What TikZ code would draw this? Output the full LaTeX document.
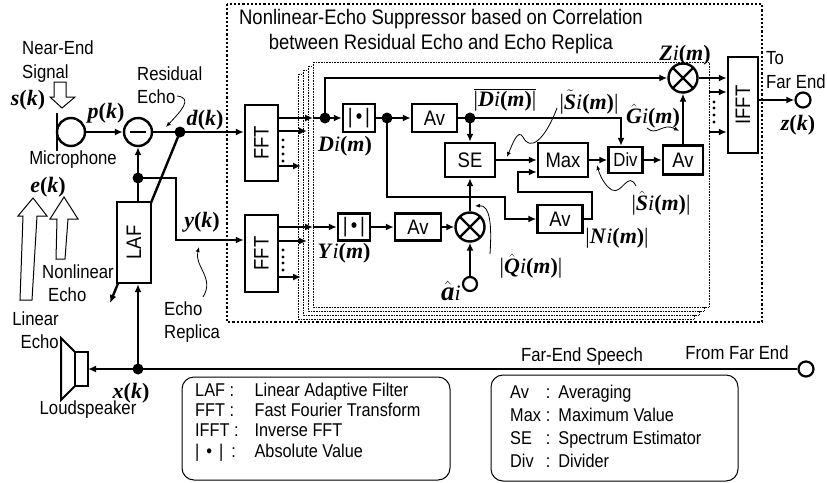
\documentclass[tikz,border=0pt]{standalone}
\usepackage{fontspec}
\usepackage{graphicx}
\setmainfont{Liberation Sans}[FakeStretch=0.88]
\newfontfamily\lblfamily{Liberation Serif}
\usetikzlibrary{arrows.meta}

\newcommand{\bi}[1]{\textbf{\textit{#1}}}
\newcommand{\fk}[2]{\bi{#1}\textbf{(}\bi{#2}\textbf{)}}
\newcommand{\fim}[1]{\bi{#1}\textit{i}\textbf{(}\bi{m}\textbf{)}}
\newcommand{\hacc}[1]{\ensuremath{\hat{\hbox{#1}}}}
\newcommand{\tacc}[1]{\ensuremath{\tilde{\hbox{#1}}}}
\newcommand{\absv}{|\hspace{3pt}\textbullet\hspace{3pt}|}

\begin{document}
\begin{tikzpicture}[x=1pt, y=-1pt,
        >={Latex[length=8pt,width=7pt]},
        sig/.style={line width=2.4pt},
        lead/.style={line width=0.8pt, -{Latex[length=5pt,width=4pt]}},
        blk/.style={draw, line width=2.4pt, fill=white, inner sep=0pt, font=\fontsize{21}{23}\selectfont},
        junc/.style={circle, fill, inner sep=0pt, minimum size=11pt},
        port/.style={circle, draw, line width=2.2pt, fill=white, inner sep=0pt, minimum size=15pt},
        mult/.style={circle, draw, line width=2.4pt, fill=white, inner sep=0pt, minimum size=29pt,
            path picture={\draw[line width=2.2pt] (path picture bounding box.south west) -- (path picture bounding box.north east)
                (path picture bounding box.north west) -- (path picture bounding box.south east);}},
        subtr/.style={circle, draw, line width=2.4pt, fill=white, inner sep=0pt, minimum size=28pt,
            path picture={\draw[line width=2.4pt] ([xshift=-8pt]path picture bounding box.center) -- ([xshift=8pt]path picture bounding box.center);}},
        hollow/.style={draw, line width=1pt, fill=white},
        pg/.style={draw, line width=0.6pt, dash pattern=on 0.7pt off 0.9pt, fill=white},
        txt/.style={font=\fontsize{19}{23.5}\selectfont, inner sep=0pt},
        lbl/.style={font=\lblfamily\fontsize{22}{24}\selectfont, inner sep=0pt}
    ]
        \useasboundingbox (0,0) rectangle (827,482);

        % Suppressor frame and its stacked frequency bins
        \draw[line width=2.2pt, dash pattern=on 2.2pt off 2pt] (227,4) rectangle (762,322);
        \node[font=\fontsize{21}{25}\selectfont, align=center] (title) at (441,32)
            {Nonlinear-Echo Suppressor based on Correlation\\between Residual Echo and Echo Replica};
        \foreach \k in {3,2,1}
            \draw[pg] (313-5*\k,62+4*\k) rectangle ++(396,245);
        \draw[pg] (313,62) rectangle (709,307);

        % Near end: microphone, subtraction, LAF
        \draw[sig] (57,113) -- (57,151);
        \node[port, line width=2.4pt, minimum size=28pt] (mic) at (71,132) {};
        \node[subtr] (sub) at (138,132) {};
        \node[junc] (dd) at (180,132) {};
        \coordinate (adapt) at (110,303);
        \draw[sig,->] (dd.center) -- (adapt);
        \node[blk, minimum width=34pt, minimum height=81pt] (laf) at (134,242.5) {\rotatebox{90}{LAF}};
        \node[junc] (yd) at (138,178) {};
        \node[junc] (xd) at (138,369) {};
        \node[blk, minimum width=33pt, minimum height=76pt] (fftA) at (261.5,143) {\rotatebox{90}{FFT}};
        \node[blk, minimum width=33pt, minimum height=77pt] (fftB) at (261.5,253.5) {\rotatebox{90}{FFT}};
        \node[port] (fe) at (806,369) {};
        \coordinate (spk) at (88,369);
        \coordinate (ycorner) at (176,240);

        \draw[sig,->] (mic) -- (sub);
        \draw[sig,->] (sub) -- (dd.center) -- (dd -| fftA.west);
        \draw[sig,->] (xd.center) -- (laf.south -| xd);
        \draw[sig] (laf.north -| yd) -- (yd.center);
        \draw[sig,->] (yd.center) -- (sub);
        \draw[sig,->] (yd.center) -- (yd -| ycorner) -- (ycorner) -- (ycorner -| fftB.west);
        \draw[sig,->] (fe) -- (xd.center) -- (spk);

        % Loudspeaker
        \draw[line width=2pt] (75,352) rectangle (88,386);
        \draw[line width=2pt] (75,352) -- (61,338) -- (61,400) -- (75,386);

        % Hollow arrows
        \draw[hollow] (54,82) -- (66,82) -- (66,97) -- (75,97) -- (62,108) -- (50,97) -- (54,97) -- cycle;
        \draw[hollow] (20,300) -- (23,216) -- (18,216) -- (33,198) -- (47,216) -- (37,216) -- (32,300) -- cycle;
        \draw[hollow] (56,259) -- (57,219) -- (50,219) -- (64,197) -- (78,219) -- (68,219) -- (65,259) -- cycle;

        % Bin i: upper branch
        \node[junc] (di) at (325,118) {};
        \node[blk, minimum width=32pt, minimum height=28pt] (absA) at (359,118) {\absv};
        \node[junc] (da) at (387,118) {};
        \node[blk, minimum width=45pt, minimum height=28pt] (avA) at (434.5,118) {Av};
        \node[junc] (dbar) at (470,118) {};
        \node[blk, minimum width=50pt, minimum height=34pt] (se) at (470,160) {SE};
        \node[blk, minimum width=50pt, minimum height=34pt] (max) at (563,160) {Max};
        \node[blk, minimum width=34pt, minimum height=26pt, font=\fontsize{19}{21}\selectfont] (div) at (625.5,160) {Div};
        \node[blk, minimum width=40pt, minimum height=29pt] (avB) at (683,160) {Av};
        \node[mult] (zm) at (683,78) {};
        \node[blk, minimum width=30pt, minimum height=96pt] (ifft) at (743,105) {\rotatebox{90}{IFFT}};
        \node[port] (zout) at (803,100) {};
        \coordinate (divin) at (621,118);

        % Bin i: lower branch
        \node[blk, minimum width=32pt, minimum height=27pt] (absB) at (354,227) {\absv};
        \node[blk, minimum width=46pt, minimum height=27pt] (avC) at (418,227) {Av};
        \node[mult] (qm) at (470,227) {};
        \node[port, minimum size=14pt] (ain) at (470,284) {};
        \node[blk, minimum width=45pt, minimum height=28pt] (avD) at (560,219) {Av};

        % FFT outputs into the bins
        \coordinate (pgA) at (313,118);
        \coordinate (pgB) at (313,227);
        \draw[sig,->] (fftA.east |- pgA) -- (pgA);
        \draw[sig] (pgA) -- (di.center);
        \draw[sig,->] (fftB.east |- pgB) -- (pgB);
        \draw[sig,->] (pgB) -- (absB);
        \foreach \y/\x in {131/307,166/301,241/307,277/301}
            \draw[sig,->] (fftA.east |- 0,\y) -- (\x,\y);
        \foreach \y in {140,147,154,161,250,257,263,270}
            \fill (283,\y) circle (1.7pt);
        \foreach \y in {102,108,115,122}
            \fill (714,\y) circle (1.7pt);

        \draw[sig,->] (di.center) -- (absA);
        \draw[sig] (absA) -- (da.center);
        \draw[sig,->] (da.center) -- (avA);
        \draw[sig] (avA) -- (dbar.center);
        \draw[sig,->] (dbar.center) -- (se);
        \draw[sig,->] (dbar.center) -- (divin) -- (divin |- div.north);
        \draw[sig,->] (di.center) -- (di |- zm) -- (zm);
        \draw[sig,->] (se) -- (max);
        \draw[sig,->] (max) -- (div);
        \draw[sig,->] (div) -- (avB);
        \draw[sig,->] (avB) -- (zm);
        \draw[sig,->] (zm) -- (zm -| ifft.west);
        \foreach \y in {92,132}
            \draw[sig,->] (709,\y) -- (ifft.west |- 0,\y);
        \draw[sig,->] (ifft.east |- zout) -- (zout);
        \draw[sig,->] (da.center) -- (da |- 0,197) -- (505,197) -- (505,219) -- (avD);
        \draw[sig,->] (avD) -- (592,219) -- (592,192) -- (518,192) -- (518,172) -- (max.west |- 0,172);
        \draw[sig,->] (absB) -- (avC);
        \draw[sig,->] (avC) -- (qm);
        \draw[sig,->] (ain) -- (qm);
        \draw[sig,->] (qm) -- (se);

        % Labels
        \node[txt, align=left, anchor=west] (near) at (22,61.5) {Near-End\\Signal};
        \node[lbl] (sk) at (28,100) {\fk{s}{k}};
        \node[lbl] (pk) at (106,113) {\fk{p}{k}};
        \node[txt, align=left, anchor=west] (resid) at (137,85) {Residual\\Echo};
        \node[lbl] (dk) at (205,120) {\fk{d}{k}};
        \node[txt] (micl) at (73,160) {Microphone};
        \node[lbl] (ek) at (48,187) {\fk{e}{k}};
        \node[lbl] (yk) at (202,222) {\fk{y}{k}};
        \node[txt, anchor=west] (nonl) at (42,272) {Nonlinear};
        \node[txt, anchor=west] (nonle) at (48,295) {Echo};
        \node[txt, align=right, anchor=east] (lin) at (59,330) {Linear\\Echo};
        \node[txt, align=left, anchor=west] (repl) at (164,322) {Echo\\Replica};
        \node[txt] (spkl) at (88,410) {Loudspeaker};
        \node[lbl] (xk) at (131,393) {\fk{x}{k}};
        \node[lbl] (dil) at (345,146) {\fim{D}};
        \node[lbl] (yil) at (344,253) {\fim{Y}};
        \node[lbl] (dbl) at (505,100) {\ensuremath{\overline{\hbox{|\fim{D}|}}}};
        \node[lbl] (stl) at (589,102) {|\fim{\tacc{S}}|};
        \node[lbl] (zil) at (685,55) {\fim{Z}};
        \node[lbl] (gl) at (653,116) {\fim{\hacc{G}}};
        \node[lbl] (shl) at (661,203) {|\fim{\hacc{S}}|};
        \node[lbl] (nil) at (617,238) {|\fim{N}|};
        \node[lbl] (ql) at (531,266) {|\fim{\hacc{Q}}|};
        \node[lbl, anchor=east] (al) at (461,291) {{\fontsize{27}{27}\selectfont\bi{\hacc{a}}}\textit{i}};
        \node[txt, align=left, anchor=west] (tofe) at (766,70) {To\\Far End};
        \node[lbl] (zk) at (798,125) {\fk{z}{k}};
        \node[txt] (fes) at (582,357) {Far-End Speech};
        \node[txt] (ffe) at (737,353) {From Far End};

        % Leaders
        \coordinate (reTip) at (166,127);
        \coordinate (rpTip) at (199,247);
        \coordinate (stTip) at (507,157);
        \coordinate (gTip) at (679,131);
        \coordinate (shTip) at (597,165);
        \coordinate (qTip) at (475,206);
        \draw[lead] (177,96) .. controls (194,98) and (180,112) .. (reTip);
        \draw[lead] (203,297) .. controls (215,278) and (194,266) .. (rpTip);
        \draw[lead] (557,108) .. controls (545,140) and (530,152) .. (523,137) .. controls (518,128) and (512,145) .. (stTip);
        \draw[lead] (647,128) .. controls (656,137) and (663,122) .. (gTip);
        \draw[lead] (636,186) .. controls (628,170) and (622,195) .. (612,190) .. controls (605,186) and (600,176) .. (shTip);
        \draw[lead] (490,254) .. controls (492,225) and (490,205) .. (qTip);

        % Legends
        \draw[line width=1pt, rounded corners=12pt] (182,377) rectangle (450,480);
        \draw[line width=1pt, rounded corners=12pt] (491,375) rectangle (738,481);
        \node[anchor=west, inner sep=0pt, font=\fontsize{18.5}{20.3}\selectfont] (keyA) at (195,422.5)
            {\begin{tabular}{@{}l@{\hspace{16pt}}l@{}}
                LAF : & Linear Adaptive Filter\\
                FFT : & Fast Fourier Transform\\
                IFFT : & Inverse FFT\\
                |\hspace{7pt}\textbullet\hspace{7pt}|\hspace{8pt}: & Absolute Value
            \end{tabular}};
        \node[anchor=west, inner sep=0pt, font=\fontsize{18.5}{23}\selectfont] (keyB) at (510,428)
            {\begin{tabular}{@{}l@{\hspace{5pt}}l@{\hspace{8pt}}l@{}}
                Av & : & Averaging\\
                Max & : & Maximum Value\\
                SE & : & Spectrum Estimator\\
                Div & : & Divider
            \end{tabular}};

    \end{tikzpicture}
\end{document}
